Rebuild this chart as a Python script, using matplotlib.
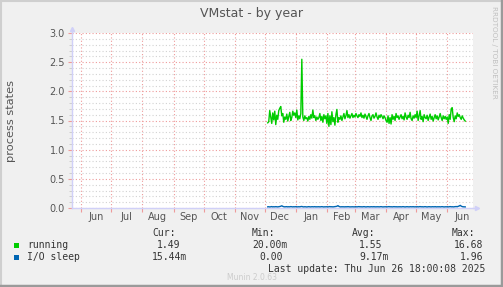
import datetime as dt
import numpy as np
import matplotlib
matplotlib.use("Agg")
import matplotlib.pyplot as plt
import matplotlib.dates as mdates
from matplotlib.lines import Line2D
from matplotlib.patches import Rectangle

# ---------------- data ----------------
title = "VMstat - by year"
ylabel = "process states"
series_names = ["running", "I/O sleep"]
series_colors = ["#00CC00", "#0066B3"]
data_start = dt.datetime(2024, 12, 4)
view_end = dt.datetime(2025, 6, 26, 18, 0)
view_days = 400

running = [
    # Dec 4 - Dec 31
    1.46, 1.48, 1.67, 1.56, 1.45, 1.63, 1.51, 1.66, 1.43, 1.59, 1.52, 1.67, 1.71, 1.74,
    1.58, 1.62, 1.47, 1.56, 1.52, 1.61, 1.49, 1.57, 1.64, 1.50, 1.55, 1.66, 1.59, 1.63,
    # Jan
    1.55, 1.68, 1.51, 1.58, 1.53, 1.62, 2.55, 1.56, 1.50, 1.58, 1.53, 1.55, 1.49, 1.57,
    1.52, 1.60, 1.54, 1.68, 1.55, 1.58, 1.50, 1.56, 1.52, 1.55, 1.62, 1.50, 1.57, 1.47,
    1.60, 1.53, 1.58,
    # Feb
    1.45, 1.62, 1.40, 1.58, 1.43, 1.65, 1.48, 1.55, 1.42, 1.60, 1.69, 1.47, 1.55, 1.52,
    1.58, 1.50, 1.56, 1.62, 1.53, 1.58, 1.67, 1.55, 1.60, 1.54, 1.58, 1.62, 1.55, 1.59,
    # Mar
    1.56, 1.62, 1.58, 1.55, 1.60, 1.57, 1.63, 1.55, 1.59, 1.54, 1.61, 1.57, 1.52, 1.58,
    1.62, 1.55, 1.50, 1.58, 1.60, 1.54, 1.57, 1.63, 1.56, 1.52, 1.59, 1.55, 1.60, 1.57,
    1.53, 1.58, 1.55,
    # Apr
    1.50, 1.47, 1.58, 1.45, 1.55, 1.44, 1.60, 1.52, 1.57, 1.50, 1.62, 1.55, 1.58, 1.52,
    1.56, 1.60, 1.53, 1.57, 1.51, 1.63, 1.56, 1.52, 1.59, 1.55, 1.64, 1.53, 1.50, 1.58,
    1.54, 1.60,
    # May
    1.55, 1.66, 1.50, 1.58, 1.67, 1.52, 1.57, 1.48, 1.60, 1.55, 1.53, 1.59, 1.50, 1.56,
    1.61, 1.52, 1.57, 1.49, 1.55, 1.60, 1.53, 1.58, 1.51, 1.56, 1.62, 1.55, 1.50, 1.58,
    1.53, 1.57, 1.52,
    # Jun 1 - 19
    1.56, 1.45, 1.60, 1.52, 1.70, 1.72, 1.55, 1.48, 1.58, 1.53, 1.63, 1.57, 1.60, 1.55,
    1.52, 1.58, 1.54, 1.51, 1.49,
]

io_sleep = [
    # Dec 4 - Dec 31
    0.020, 0.022, 0.018, 0.021, 0.024, 0.019, 0.022, 0.020, 0.023, 0.021, 0.019, 0.022,
    0.025, 0.030, 0.038, 0.028, 0.022, 0.020, 0.021, 0.023, 0.019, 0.022, 0.020, 0.024,
    0.021, 0.019, 0.022, 0.020,
    # Jan
    0.023, 0.021, 0.019, 0.022, 0.020, 0.024, 0.026, 0.021, 0.019, 0.022, 0.020, 0.018,
    0.021, 0.023, 0.020, 0.019, 0.022, 0.021, 0.020, 0.023, 0.019, 0.021, 0.020, 0.022,
    0.019, 0.021, 0.023, 0.020, 0.018, 0.021, 0.020,
    # Feb
    0.022, 0.019, 0.021, 0.024, 0.020, 0.022, 0.019, 0.021, 0.023, 0.026, 0.030, 0.040,
    0.028, 0.021, 0.019, 0.022, 0.020, 0.021, 0.019, 0.022, 0.020, 0.023, 0.021, 0.019,
    0.020, 0.022, 0.021, 0.019,
    # Mar
    0.020, 0.022, 0.019, 0.021, 0.024, 0.020, 0.022, 0.019, 0.021, 0.023, 0.020, 0.018,
    0.021, 0.022, 0.020, 0.019, 0.022, 0.021, 0.020, 0.023, 0.019, 0.021, 0.020, 0.022,
    0.019, 0.021, 0.023, 0.020, 0.018, 0.021, 0.020,
    # Apr
    0.022, 0.019, 0.021, 0.024, 0.020, 0.022, 0.019, 0.021, 0.023, 0.020, 0.022, 0.019,
    0.021, 0.020, 0.022, 0.019, 0.021, 0.023, 0.020, 0.018, 0.021, 0.022, 0.020, 0.019,
    0.022, 0.021, 0.020, 0.023, 0.019, 0.021,
    # May
    0.020, 0.022, 0.019, 0.021, 0.024, 0.020, 0.022, 0.019, 0.021, 0.023, 0.020, 0.018,
    0.021, 0.022, 0.020, 0.019, 0.022, 0.021, 0.020, 0.023, 0.019, 0.021, 0.020, 0.022,
    0.019, 0.021, 0.023, 0.020, 0.018, 0.021, 0.020,
    # Jun 1 - 19
    0.022, 0.019, 0.021, 0.024, 0.020, 0.022, 0.019, 0.021, 0.023, 0.025, 0.022, 0.028,
    0.035, 0.045, 0.032, 0.024, 0.021, 0.020, 0.019,
]

legend_headers = ["Cur:", "Min:", "Avg:", "Max:"]
legend_values = [
    ["1.49", "20.00m", "1.55", "16.68"],
    ["15.44m", "0.00", "9.17m", "1.96"],
]
last_update = "Last update: Thu Jun 26 18:00:08 2025"
version = "Munin 2.0.63"
watermark = "RRDTOOL / TOBI OETIKER"

# ---------------- figure ----------------
W, H = 503, 287
fig = plt.figure(figsize=(W / 100, H / 100), dpi=100, facecolor="#F0F0F0")


def fx(x):
    return x / W


def fy(y):
    return 1 - y / H


ax = fig.add_axes([fx(72), fy(208), (473 - 72) / W, (208 - 33) / H])
ax.set_facecolor("white")

dates_run = [data_start + dt.timedelta(days=i) for i in range(len(running))]
dates_io = [data_start + dt.timedelta(days=i) for i in range(len(io_sleep))]

ax.plot(dates_run, running, color=series_colors[0], lw=1.0, zorder=3)
ax.plot(dates_io, io_sleep, color=series_colors[1], lw=1.0, zorder=3)

ax.set_xlim(view_end - dt.timedelta(days=view_days), view_end)
ax.set_ylim(0, 3.0)

# y grid
major_col = "#EE9A9A"
minor_col = "#D2D2D2"
ax.set_yticks(np.arange(0, 3.01, 0.5))
ax.set_yticks(np.arange(0, 3.01, 0.1), minor=True)
ax.yaxis.set_major_formatter(matplotlib.ticker.FormatStrFormatter("%.1f"))
ax.grid(True, which="minor", axis="y", color=minor_col, lw=0.8, ls=(0, (1, 2)), zorder=1)
ax.grid(True, which="major", axis="y", color=major_col, lw=0.8, ls=(0, (1, 2)), zorder=2)

# x grid: month starts
ax.xaxis.set_major_locator(mdates.MonthLocator())
ax.xaxis.set_major_formatter(matplotlib.ticker.NullFormatter())
ax.xaxis.set_minor_locator(mdates.MonthLocator(bymonthday=16))
ax.xaxis.set_minor_formatter(mdates.DateFormatter("%b"))
ax.grid(True, which="major", axis="x", color=major_col, lw=0.8, ls=(0, (1, 2)), zorder=2)

ax.tick_params(axis="x", which="major", length=3, color=major_col, width=0.8)
ax.tick_params(axis="x", which="minor", length=0, labelsize=7, labelcolor="#555555", pad=3)
ax.tick_params(axis="y", which="major", length=3, color=major_col, width=0.8,
               labelsize=7, labelcolor="#555555", pad=2)
ax.tick_params(axis="y", which="minor", length=2, color="#C8C8C8", width=0.6)

for s in ("top", "right"):
    ax.spines[s].set_visible(False)
axis_col = "#D0D0F8"
for s in ("left", "bottom"):
    ax.spines[s].set_color(axis_col)
    ax.spines[s].set_linewidth(1.0)

# arrows
ax.plot([0, 0], [1, 1 + 4 / 175], transform=ax.transAxes, color=axis_col, lw=1, clip_on=False)
ax.plot([0], [1 + 4 / 175], transform=ax.transAxes, marker="^", ms=3, color=axis_col,
        clip_on=False, mec=axis_col)
ax.plot([1, 1 + 4 / 401], [0, 0], transform=ax.transAxes, color=axis_col, lw=1, clip_on=False)
ax.plot([1 + 4 / 401], [0], transform=ax.transAxes, marker=">", ms=3, color=axis_col,
        clip_on=False, mec=axis_col)

# titles
fig.text(fx(251), fy(14), title, ha="center", va="center", fontsize=9, color="#555555",
         family="DejaVu Sans")
fig.text(fx(11), fy(121), ylabel, ha="center", va="center", rotation=90, fontsize=8.2,
         color="#555555", family="DejaVu Sans")
fig.text(fx(494), fy(6), watermark, ha="center", va="top", rotation=-90, fontsize=5.2,
         color="#C0C0C0", family="DejaVu Sans")

# legend
mono = dict(family="DejaVu Sans Mono", fontsize=7, color="#333333", va="center", ha="left")
header_x = [152, 252, 352, 452]
for hx, h in zip(header_x, legend_headers):
    fig.text(fx(hx), fy(233), h, **mono)

value_x = [
    [157, 252, 359, 454],
    [152, 259, 359, 460],
]
row_y = [245, 257]
for i, name in enumerate(series_names):
    fig.add_artist(Rectangle((fx(14), fy(row_y[i] + 2.5)), 5 / W, 5 / H,
                             transform=fig.transFigure, color=series_colors[i], lw=0))
    fig.text(fx(27), fy(row_y[i]), name, **mono)
    for vx, v in zip(value_x[i], legend_values[i]):
        fig.text(fx(vx), fy(row_y[i]), v, **mono)

fig.text(fx(268), fy(269), last_update, **mono)
fig.text(fx(252), fy(277), version, ha="center", va="center", fontsize=5.5, color="#CCCCCC",
         family="DejaVu Sans")

# border
fig.add_artist(Line2D([0, 1], [1 - 0.5 / H] * 2, transform=fig.transFigure, color="#CFCFCF", lw=1.5))
fig.add_artist(Line2D([0.5 / W] * 2, [0, 1], transform=fig.transFigure, color="#CFCFCF", lw=1.5))
fig.add_artist(Line2D([0, 1], [1.5 / H] * 2, transform=fig.transFigure, color="#9A9A9A", lw=2.5))
fig.add_artist(Line2D([1 - 1.5 / W] * 2, [0, 1], transform=fig.transFigure, color="#9A9A9A", lw=2.5))

fig.savefig("out.png", dpi=100, facecolor=fig.get_facecolor())
